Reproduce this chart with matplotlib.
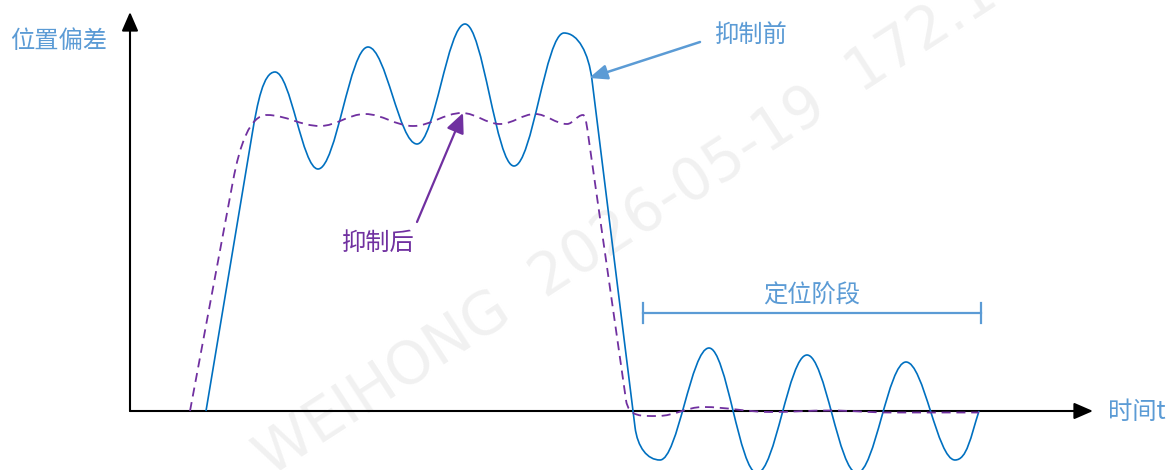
import numpy as np
import matplotlib.pyplot as plt
from matplotlib.path import Path
from matplotlib.patches import PathPatch

plt.rcParams['font.family'] = ['Noto Sans CJK SC', 'DejaVu Sans']

# key points of the curves: time t, position error e, slope at the point
before_t = [76, 122, 145, 188, 238, 287, 335, 384, 434, 462, 505, 530, 579, 627, 677, 727, 776, 825, 849]
before_e = [0, 276, 339, 242, 364, 267, 387, 245, 378, 331, -16, -49, 63, -62, 56, -62, 49, -49, 0]
before_slope = [6.0, 6.0, 0, 0, 0, 0, 0, 0, 0, -8.07, -8.07, 0, 0, 0, 0, 0, 0, 0, 3.1]

after_t = [60, 103, 137, 190, 235, 283, 332, 370, 405, 437, 453, 459, 496, 528, 573, 640, 700, 760, 849]
after_e = [0, 230, 296, 285, 297, 285, 298, 287, 297, 287, 296, 270, 11, -5, 4, -1, 0.5, -1.5, -1.5]
after_slope = [5.35, 5.35, 0, 0, 0, 0, 0, 0, 0, 0, 0, -7.0, -7.0, 0, 0, 0, 0, 0, 0]

# positioning stage span
stage_start, stage_end = 513, 851

BLUE = '#0070C0'
LIGHT_BLUE = '#5B9BD5'
PURPLE = '#7030A0'


def curve_path(ts, es, slopes):
    # smooth bezier through the key points with the given slopes
    verts = [(ts[0], es[0])]
    codes = [Path.MOVETO]
    for i in range(len(ts) - 1):
        p0 = np.array([ts[i], es[i]], dtype=float)
        p1 = np.array([ts[i + 1], es[i + 1]], dtype=float)
        dx = p1[0] - p0[0]
        chord = np.hypot(*(p1 - p0))
        u0 = np.array([1.0, slopes[i]]) / np.hypot(1, slopes[i])
        u1 = np.array([1.0, slopes[i + 1]]) / np.hypot(1, slopes[i + 1])
        # half-cosine between two flat points, rounder corners otherwise
        k = 0.363 if slopes[i] == 0 and slopes[i + 1] == 0 else 0.5
        h0 = min(k * dx / u0[0], 0.5 * chord)
        h1 = min(k * dx / u1[0], 0.5 * chord)
        verts += [tuple(p0 + h0 * u0), tuple(p1 - h1 * u1), tuple(p1)]
        codes += [Path.CURVE4] * 3
    return Path(verts, codes)


fig = plt.figure(figsize=(11.74, 4.70), dpi=100)
ax = fig.add_axes([0, 0, 1, 1])
ax.set_xlim(-130, 1044)
ax.set_ylim(-59, 411)
ax.axis('off')

# watermark
ax.text(140, -66, 'WEIHONG  2026-05-19  172.16.4.', fontsize=42, color='#f1f1f1',
        rotation=33, rotation_mode='anchor', ha='left', va='baseline',
        family='DejaVu Sans', zorder=0)

# axes with arrows
axis_arrow = dict(arrowstyle='-|>,head_length=1.15,head_width=0.5', color='black',
                  lw=1.5, shrinkA=0, shrinkB=0, mutation_scale=10)
ax.annotate('', xy=(0, 399), xytext=(0, 0), arrowprops=axis_arrow, zorder=2)
ax.annotate('', xy=(963, 0), xytext=(0, 0), arrowprops=axis_arrow, zorder=2)

ax.add_patch(PathPatch(curve_path(before_t, before_e, before_slope), fill=False,
                       edgecolor=BLUE, lw=1.2, zorder=3))
ax.add_patch(PathPatch(curve_path(after_t, after_e, after_slope), fill=False,
                       edgecolor=PURPLE, lw=1.3, linestyle=(0, (5, 3.2)), zorder=4))

# labels
ax.text(-120, 369.5, '位置偏差', fontsize=17.5, color=LIGHT_BLUE, ha='left', va='center')
ax.text(978, -0.7, '时间t', fontsize=17.5, color=LIGHT_BLUE, ha='left', va='center')
ax.text(585, 376, '抑制前', fontsize=17.5, color=LIGHT_BLUE, ha='left', va='center')
ax.text(211.7, 168, '抑制后', fontsize=17.5, color=PURPLE, ha='left', va='center')
ax.text((stage_start + stage_end) / 2, 115.5, '定位阶段', fontsize=17.5, color=LIGHT_BLUE,
        ha='center', va='center')

ax.annotate('', xy=(459, 333), xytext=(570, 369),
            arrowprops=dict(arrowstyle='-|>,head_length=1.1,head_width=0.45', color=LIGHT_BLUE,
                            lw=1.8, shrinkA=0, shrinkB=0, mutation_scale=10), zorder=5)
ax.annotate('', xy=(333, 298), xytext=(287, 189),
            arrowprops=dict(arrowstyle='-|>,head_length=1.2,head_width=0.55', color=PURPLE,
                            lw=1.6, shrinkA=0, shrinkB=0, mutation_scale=10), zorder=5)

# positioning stage bracket
ax.plot([stage_start, stage_end], [98, 98], color=LIGHT_BLUE, lw=1.6)
ax.plot([stage_start, stage_start], [88, 108], color=LIGHT_BLUE, lw=1.6)
ax.plot([stage_end, stage_end], [88, 108], color=LIGHT_BLUE, lw=1.6)

fig.savefig('out.png', dpi=100)
